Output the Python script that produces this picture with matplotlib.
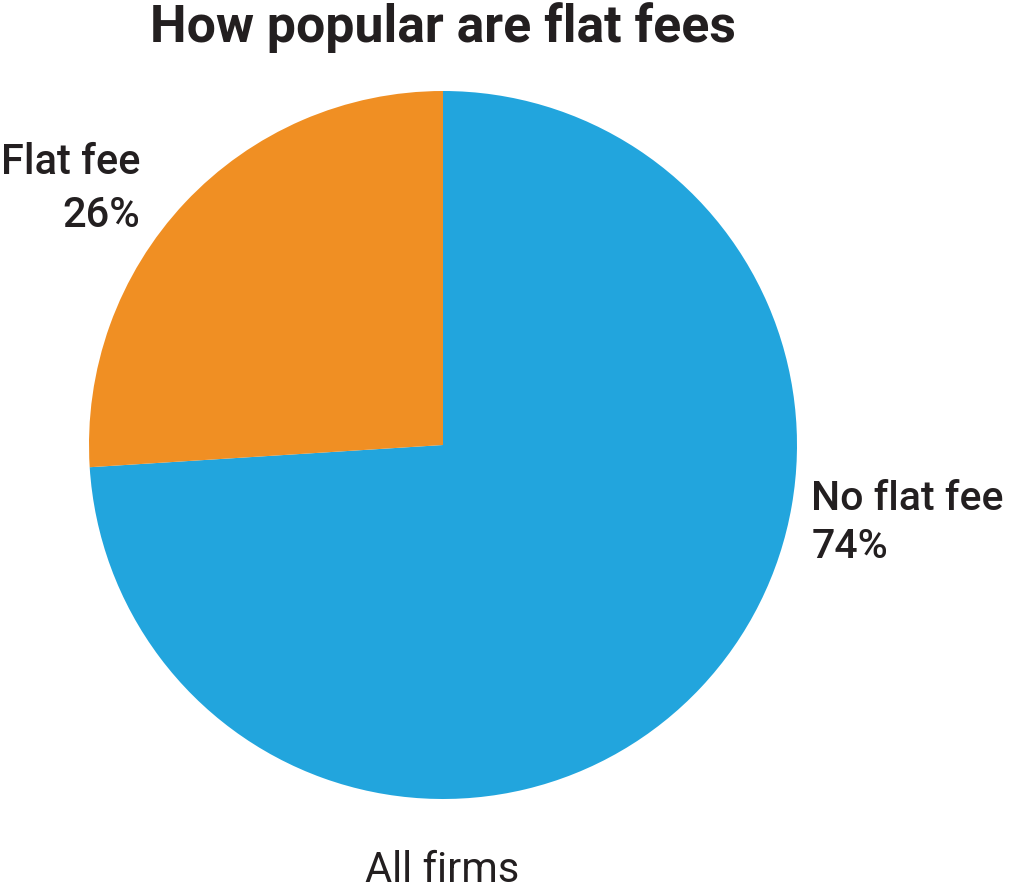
import matplotlib.pyplot as plt

# data
categories = ['No flat fee', 'Flat fee']
shares = [74, 26]
colors = ['#22A5DD', '#F08F23']
title = 'How popular are flat fees'
subtitle = 'All firms'

plt.rcParams['font.family'] = ['Roboto', 'DejaVu Sans']

fig = plt.figure(figsize=(10.10, 8.91), dpi=100)
W, H = 1010, 891
cx, cy, r = 443, 446, 354
ax = fig.add_axes([(cx - r) / W, (cy - r) / H, 2 * r / W, 2 * r / H])
ax.pie(shares, colors=colors, startangle=90, counterclock=False, radius=1,
       wedgeprops=dict(linewidth=0))
ax.set_xlim(-1, 1)
ax.set_ylim(-1, 1)
ax.set_aspect('equal')
ax.axis('off')

txt = '#231F20'
fig.text(443 / W, 1 - 2 / H, title, ha='center', va='top', fontsize=37.3,
         fontweight='bold', color=txt)

ax.text(1.04, -0.22, f'{categories[0]}\n{shares[0]}%', ha='left', va='center',
        fontsize=29.5, fontweight='medium', color=txt, linespacing=1.35,
        transform=ax.transData, clip_on=False)
ax.text(-0.856, 0.723, f'{categories[1]}\n{shares[1]}%', ha='right', va='center',
        fontsize=30, fontweight='medium', color=txt, linespacing=1.35,
        transform=ax.transData, clip_on=False)

fig.text(442 / W, 1 - 871 / H, subtitle, ha='center', va='center',
         fontsize=30, color=txt)

fig.savefig('out.png', dpi=100)
